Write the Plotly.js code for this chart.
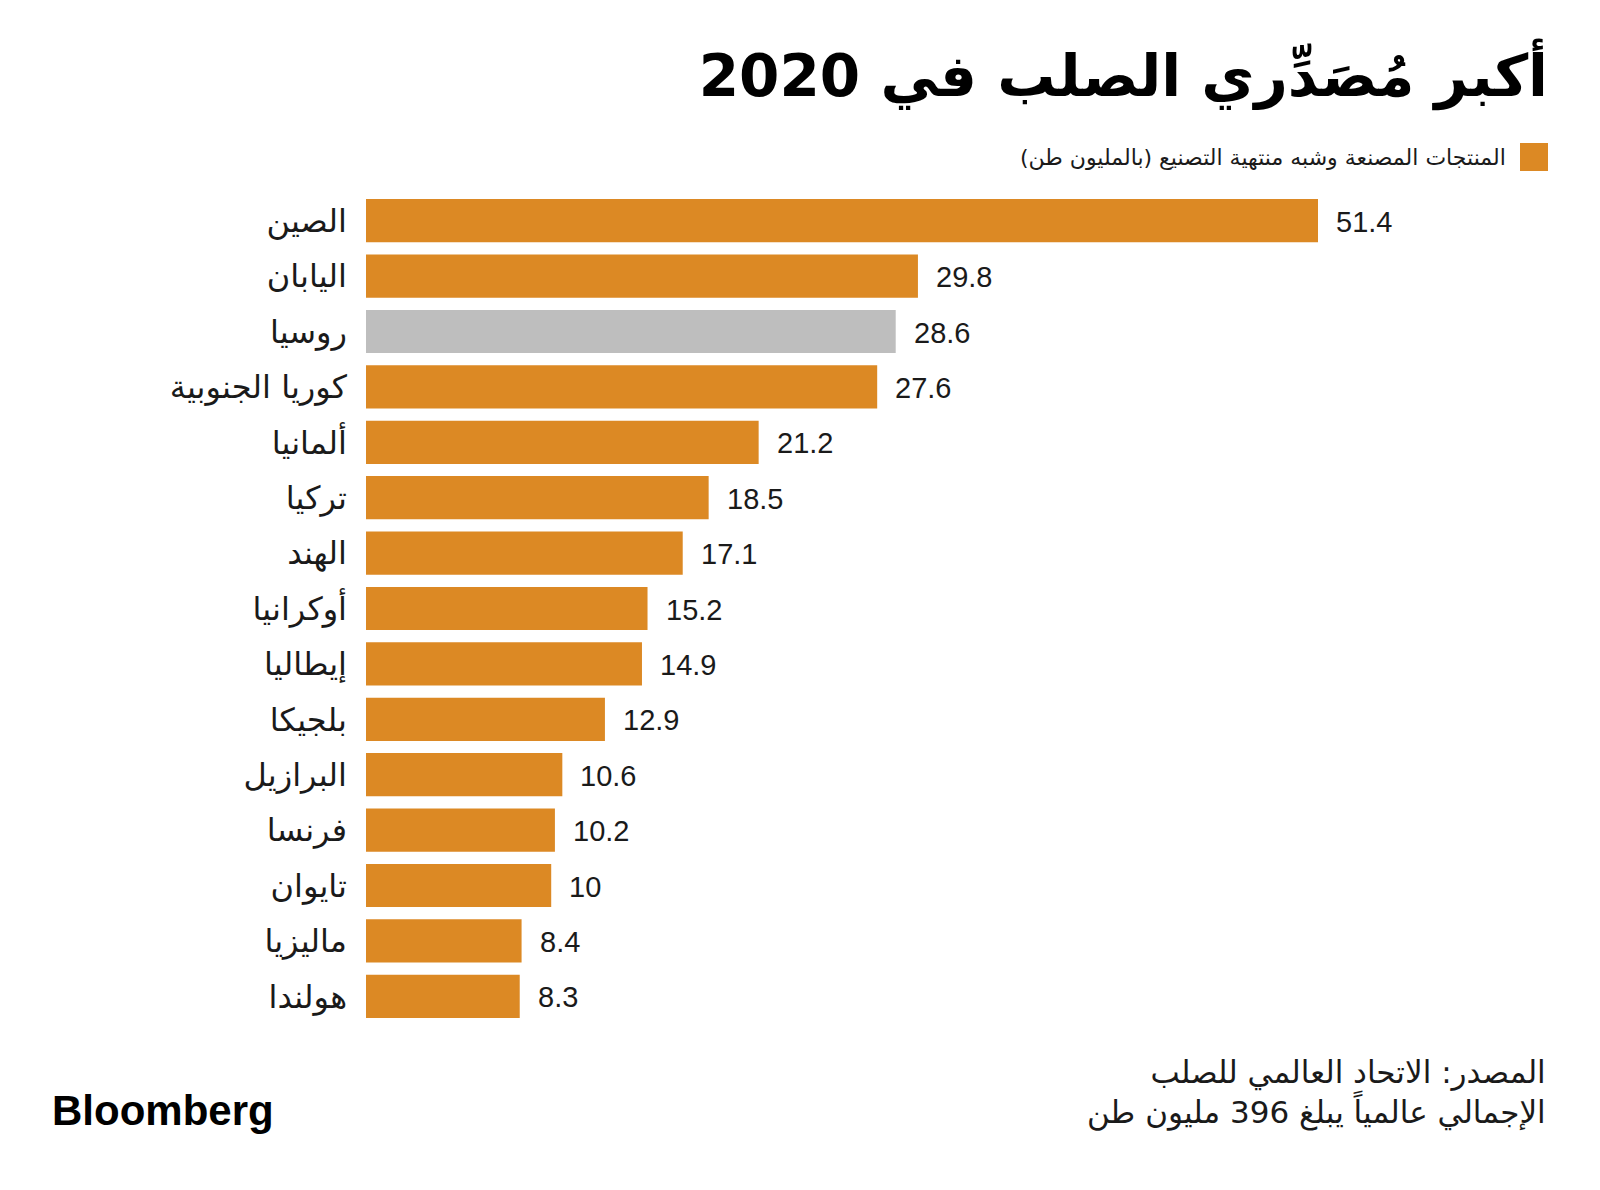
<!DOCTYPE html>
<html>
<head>
<meta charset="utf-8">
<script src="https://cdn.plot.ly/plotly-3.0.1.min.js"></script>
<style>html,body{margin:0;padding:0;background:#fff;}#chart{width:1600px;height:1190px;}</style>
</head>
<body>
<div id="chart"></div>
<script>
// ---- data ----
const countries = ['الصين','اليابان','روسيا','كوريا الجنوبية','ألمانيا','تركيا','الهند','أوكرانيا','إيطاليا','بلجيكا','البرازيل','فرنسا','تايوان','ماليزيا','هولندا'];
const exportsMt = [51.4, 29.8, 28.6, 27.6, 21.2, 18.5, 17.1, 15.2, 14.9, 12.9, 10.6, 10.2, 10, 8.4, 8.3];
const highlighted = 'روسيا';
const titleText = 'أكبر مُصَدِّري الصلب في 2020';
const legendText = 'المنتجات المصنعة وشبه منتهية التصنيع (بالمليون طن)';
const sourceLines = ['المصدر: الاتحاد العالمي للصلب', 'الإجمالي عالمياً يبلغ 396 مليون طن'];
const logoText = 'Bloomberg';

// ---- styling ----
const W = 1600, H = 1190;
const M = {l: 366, r: 80, t: 193, b: 166};
const PW = W - M.l - M.r, PH = H - M.t - M.b;
const px2x = p => (p - M.l) / PW;
const py2y = p => 1 - (p - M.t) / PH;
const ORANGE = '#dc8924', GREY = '#bebebe';
const RLM = '\u200F';
const AR = 'DejaVu Sans, sans-serif';
const LAT = 'Liberation Sans, Arial, sans-serif';

const colors = countries.map(c => c === highlighted ? GREY : ORANGE);

const trace = {
  type: 'bar', orientation: 'h',
  x: exportsMt, y: countries,
  marker: {color: colors, line: {width: 0}},
  hoverinfo: 'x+y', showlegend: false
};

const valueAnn = exportsMt.map((v, i) => ({
  x: v, y: countries[i], xref: 'x', yref: 'y',
  text: String(v), showarrow: false, xanchor: 'left', yanchor: 'middle',
  xshift: 16, yshift: -1, font: {family: LAT, size: 29, color: '#1a1a1a'}
}));

const annotations = valueAnn.concat([
  {xref: 'paper', yref: 'paper', x: px2x(1508), y: py2y(158), xanchor: 'right', yanchor: 'middle',
   text: RLM + legendText + RLM, showarrow: false, font: {family: AR, size: 22, color: '#1a1a1a'}},
  {xref: 'paper', yref: 'paper', x: px2x(1548), y: py2y(1092), xanchor: 'right', yanchor: 'middle', align: 'right',
   text: sourceLines.map(s => RLM + s + RLM).join('<br>'), showarrow: false,
   font: {family: AR, size: 31, color: '#1a1a1a'}},
  {xref: 'paper', yref: 'paper', x: px2x(50), y: py2y(1110), xanchor: 'left', yanchor: 'middle',
   text: '<b>' + logoText + '</b>', showarrow: false, font: {family: LAT, size: 42, color: '#000'}}
]);

const layout = {
  width: W, height: H,
  margin: M,
  paper_bgcolor: '#fff', plot_bgcolor: '#fff',
  title: {
    text: '<b>' + RLM + titleText + RLM + '</b>',
    xref: 'container', x: 1548 / W, xanchor: 'right',
    yref: 'container', y: 1 - 76 / H, yanchor: 'middle',
    font: {family: AR, size: 58, color: '#000'}
  },
  bargap: 0.22,
  xaxis: {range: [0, PW / (952 / 51.4)], visible: false, fixedrange: true},
  yaxis: {
    autorange: 'reversed', showgrid: false, zeroline: false, showline: false,
    ticks: '', ticklabelstandoff: 18,
    tickfont: {family: AR, size: 32, color: '#1a1a1a'}
  },
  shapes: [
    {type: 'rect', xref: 'paper', yref: 'paper', x0: px2x(1520), x1: px2x(1548), y0: py2y(171), y1: py2y(143),
     fillcolor: ORANGE, line: {width: 0}}
  ],
  annotations: annotations,
  showlegend: false
};

Plotly.newPlot('chart', [trace], layout, {displayModeBar: false});
</script>
</body>
</html>
